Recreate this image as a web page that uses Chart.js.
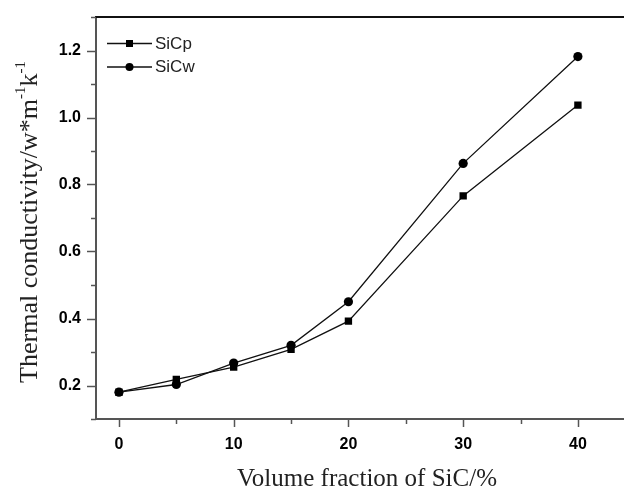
<!DOCTYPE html>
<html>
<head>
<meta charset="utf-8">
<script src="https://cdn.jsdelivr.net/npm/chart.js@4.4.1/dist/chart.umd.min.js"></script>
<style>
  html, body { margin: 0; padding: 0; background: #fff; overflow: hidden; }
  canvas { display: block; }
</style>
</head>
<body>
<!-- canvas is a few px wider than the window: the right frame is cut off as in the figure -->
<canvas id="tcChart" width="629" height="489"></canvas>
<script>
  // values
  const volumeFractions = [0, 5, 10, 15, 20, 30, 40];
  const sicpValues = [0.18, 0.218, 0.255, 0.308, 0.392, 0.766, 1.037];
  const sicwValues = [0.18, 0.203, 0.267, 0.32, 0.45, 0.863, 1.182];
  const seriesNames = ['SiCp', 'SiCw'];
  const xMajorTicks = [0, 10, 20, 30, 40];
  const yMajorTicks = [0.2, 0.4, 0.6, 0.8, 1.0, 1.2];

  const inkColor = '#111';
  const axisColor = '#555';

  function near(list, v) {
    return list.some(t => Math.abs(t - v) < 1e-6);
  }

  // keep the plot box at a fixed place, no extra room for label overflow
  function pinScale(scale, size) {
    if (scale.isHorizontal()) scale.height = size;
    else scale.width = size;
    scale.paddingTop = 0;
    scale.paddingBottom = 0;
    scale.paddingLeft = 0;
    scale.paddingRight = 0;
  }

  // tick marks (major long, minor short), top border, titles, legend
  const decorPlugin = {
    id: 'decor',
    afterDraw(chart) {
      const ctx = chart.ctx;
      const area = chart.chartArea;
      const xs = chart.scales.x;
      const ys = chart.scales.y;
      ctx.save();

      // top frame line
      ctx.strokeStyle = inkColor;
      ctx.lineWidth = 2;
      ctx.beginPath();
      ctx.moveTo(area.left - 1, area.top);
      ctx.lineTo(chart.width, area.top);
      ctx.stroke();

      // tick marks
      ctx.strokeStyle = axisColor;
      ctx.lineWidth = 1.5;
      ys.ticks.forEach(t => {
        const v = t.value;
        if (Math.abs(Math.round(v * 10) - v * 10) > 1e-6) return;
        const len = near(yMajorTicks, v) ? 9 : 5;
        const py = Math.round(ys.getPixelForValue(v)) + 0.5;
        ctx.beginPath();
        ctx.moveTo(area.left - len, py);
        ctx.lineTo(area.left, py);
        ctx.stroke();
      });
      xs.ticks.forEach(t => {
        const v = t.value;
        if (v % 5 !== 0 || v < 0 || v > 40) return;
        const len = near(xMajorTicks, v) ? 8 : 5;
        const px = Math.round(xs.getPixelForValue(v)) + 0.5;
        ctx.beginPath();
        ctx.moveTo(px, area.bottom);
        ctx.lineTo(px, area.bottom + len);
        ctx.stroke();
      });

      // axis titles
      ctx.fillStyle = '#222';
      ctx.font = '25px "Liberation Serif", "Times New Roman", serif';
      ctx.textAlign = 'center';
      ctx.textBaseline = 'alphabetic';
      ctx.fillText('Volume fraction of SiC/%', 367, 486);

      // y title, rotated, with superscript -1
      const parts = [
        { t: 'Thermal conductivity/w*m', sup: false },
        { t: '-1', sup: true },
        { t: 'k', sup: false },
        { t: '-1', sup: true }
      ];
      const bigFont = '26px "Liberation Serif", "Times New Roman", serif';
      const supFont = '15px "Liberation Serif", "Times New Roman", serif';
      let total = 0;
      parts.forEach(p => {
        ctx.font = p.sup ? supFont : bigFont;
        p.w = ctx.measureText(p.t).width;
        total += p.w;
      });
      ctx.translate(37, 222);
      ctx.rotate(-Math.PI / 2);
      ctx.textAlign = 'left';
      let cx = -total / 2;
      parts.forEach(p => {
        ctx.font = p.sup ? supFont : bigFont;
        ctx.fillText(p.t, cx, p.sup ? -12 : 0);
        cx += p.w;
      });
      ctx.setTransform(1, 0, 0, 1, 0, 0);

      // legend: line - marker - line, then label
      chart.data.datasets.forEach((ds, i) => {
        const y = 43.5 + i * 23.5;
        ctx.strokeStyle = ds.borderColor;
        ctx.lineWidth = 1.3;
        ctx.beginPath();
        ctx.moveTo(107, y);
        ctx.lineTo(152, y);
        ctx.stroke();
        ctx.fillStyle = ds.pointBackgroundColor;
        if (ds.pointStyle === 'rect') {
          ctx.fillRect(129.5 - 3.5, y - 3.5, 7, 7);
        } else {
          ctx.beginPath();
          ctx.arc(129.5, y, 4, 0, Math.PI * 2);
          ctx.fill();
        }
        ctx.fillStyle = '#222';
        ctx.font = '17px "Liberation Sans", Arial, sans-serif';
        ctx.textAlign = 'left';
        ctx.textBaseline = 'middle';
        ctx.fillText(ds.label, 155, y + 0.5);
      });

      ctx.restore();
    }
  };

  const ctx = document.getElementById('tcChart').getContext('2d');
  new Chart(ctx, {
    type: 'line',
    data: {
      datasets: [
        {
          label: seriesNames[0],
          data: volumeFractions.map((x, i) => ({ x: x, y: sicpValues[i] })),
          borderColor: inkColor,
          borderWidth: 1.3,
          pointStyle: 'rect',
          pointRadius: 5.2,
          pointBackgroundColor: '#000',
          pointBorderWidth: 0,
          tension: 0
        },
        {
          label: seriesNames[1],
          data: volumeFractions.map((x, i) => ({ x: x, y: sicwValues[i] })),
          borderColor: inkColor,
          borderWidth: 1.3,
          pointStyle: 'circle',
          pointRadius: 4.6,
          pointBackgroundColor: '#000',
          pointBorderWidth: 0,
          tension: 0
        }
      ]
    },
    options: {
      responsive: false,
      animation: false,
      events: [],
      layout: { padding: { top: 17, right: 0, left: 0, bottom: 0 } },
      plugins: {
        legend: { display: false },
        tooltip: { enabled: false }
      },
      scales: {
        x: {
          type: 'linear',
          min: -2,
          max: 44,
          afterFit(scale) { pinScale(scale, 70); },
          grid: { display: false, drawTicks: false },
          border: { display: true, color: axisColor, width: 2 },
          ticks: {
            stepSize: 5,
            includeBounds: false,
            autoSkip: false,
            maxRotation: 0,
            padding: 16,
            color: '#000',
            font: { family: '"Liberation Sans", Arial, sans-serif', size: 16, weight: 'bold' },
            callback: v => (near(xMajorTicks, v) ? String(v) : '')
          }
        },
        y: {
          min: 0.1,
          max: 1.3,
          afterFit(scale) { pinScale(scale, 96); },
          grid: { display: false, drawTicks: false },
          border: { display: true, color: axisColor, width: 2 },
          ticks: {
            stepSize: 0.1,
            includeBounds: false,
            autoSkip: false,
            padding: 15,
            color: '#000',
            font: { family: '"Liberation Sans", Arial, sans-serif', size: 16, weight: 'bold' },
            callback: v => (near(yMajorTicks, v) ? v.toFixed(1) : '')
          }
        }
      }
    },
    plugins: [decorPlugin]
  });
</script>
</body>
</html>
